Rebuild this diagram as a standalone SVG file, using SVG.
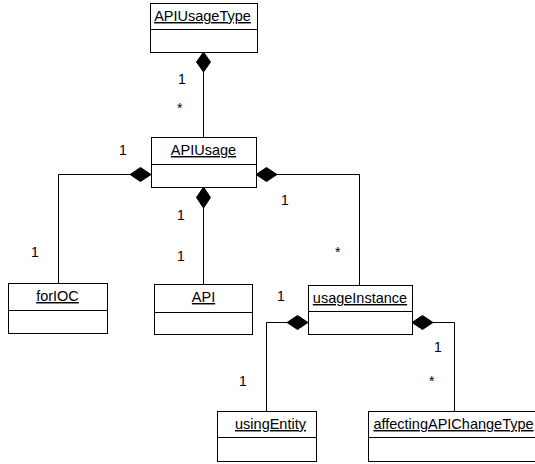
<svg xmlns="http://www.w3.org/2000/svg" width="535" height="464" viewBox="0 0 535 464">
<style>
.box{fill:#fff;stroke:#000;stroke-width:1}
.div{stroke:#000;stroke-width:1}
.name{font-family:"Liberation Sans",Arial,sans-serif;font-size:14.5px;text-decoration:underline;text-anchor:middle;fill:#000}
.lbl{font-family:"Liberation Sans",Arial,sans-serif;font-size:14px;fill:#000}
.line{fill:none;stroke:#000;stroke-width:1}
.dia{fill:#000;stroke:#000;stroke-width:1}
</style>
<rect width="535" height="464" fill="#fff"/>
<g id="connectors">
<polyline class="line" points="203.5,72 203.5,137"/>
<polygon class="dia" points="203.5,52 210.5,62 203.5,72 196.5,62"/>
<polyline class="line" points="130,174.5 58.5,174.5 58.5,283"/>
<polygon class="dia" points="151,174.5 140.5,167.5 130,174.5 140.5,181.5"/>
<polyline class="line" points="203.5,208 203.5,284"/>
<polygon class="dia" points="203.5,187 210.5,197.5 203.5,208 196.5,197.5"/>
<polyline class="line" points="277,174.5 359.5,174.5 359.5,285"/>
<polygon class="dia" points="256,174.5 266.5,167.5 277,174.5 266.5,181.5"/>
<polyline class="line" points="287,322.5 266.5,322.5 266.5,411"/>
<polygon class="dia" points="308,322.5 297.5,315.5 287,322.5 297.5,329.5"/>
<polyline class="line" points="433,322.5 454.5,322.5 454.5,411"/>
<polygon class="dia" points="412,322.5 422.5,315.5 433,322.5 422.5,329.5"/>
<text class="lbl" x="178" y="84">1</text>
<text class="lbl" x="177" y="113">*</text>
<text class="lbl" x="119" y="155">1</text>
<text class="lbl" x="177" y="220">1</text>
<text class="lbl" x="177" y="261">1</text>
<text class="lbl" x="31" y="257">1</text>
<text class="lbl" x="281" y="205">1</text>
<text class="lbl" x="335" y="257">*</text>
<text class="lbl" x="277" y="301">1</text>
<text class="lbl" x="239" y="386">1</text>
<text class="lbl" x="434" y="352">1</text>
<text class="lbl" x="429" y="386">*</text>
</g>
<g id="APIUsageType">
<rect class="box" x="150.5" y="3.5" width="107" height="49"/>
<line class="div" x1="150.5" y1="29.5" x2="257.5" y2="29.5"/>
<text class="name" x="202.5" y="21">APIUsageType</text>
</g>
<g id="APIUsage">
<rect class="box" x="151.5" y="137.5" width="105" height="50"/>
<line class="div" x1="151.5" y1="164.5" x2="256.5" y2="164.5"/>
<text class="name" x="203.5" y="155">APIUsage</text>
</g>
<g id="forIOC">
<rect class="box" x="8.5" y="283.5" width="99" height="50"/>
<line class="div" x1="8.5" y1="310.5" x2="107.5" y2="310.5"/>
<text class="name" x="57.5" y="301">forIOC</text>
</g>
<g id="API">
<rect class="box" x="154.5" y="284.5" width="98" height="50"/>
<line class="div" x1="154.5" y1="312.5" x2="252.5" y2="312.5"/>
<text class="name" x="203.5" y="302">API</text>
</g>
<g id="usageInstance">
<rect class="box" x="308.5" y="285.5" width="104" height="49"/>
<line class="div" x1="308.5" y1="311.5" x2="412.5" y2="311.5"/>
<text class="name" x="360" y="303">usageInstance</text>
</g>
<g id="usingEntity">
<rect class="box" x="217.5" y="411.5" width="99" height="50"/>
<line class="div" x1="217.5" y1="437.5" x2="316.5" y2="437.5"/>
<text class="name" x="270.5" y="429">usingEntity</text>
</g>
<g id="affectingAPIChangeType">
<rect class="box" x="368.5" y="411.5" width="172" height="50"/>
<line class="div" x1="368.5" y1="437.5" x2="540.5" y2="437.5"/>
<text class="name" x="453.5" y="429">affectingAPIChangeType</text>
</g>
</svg>
